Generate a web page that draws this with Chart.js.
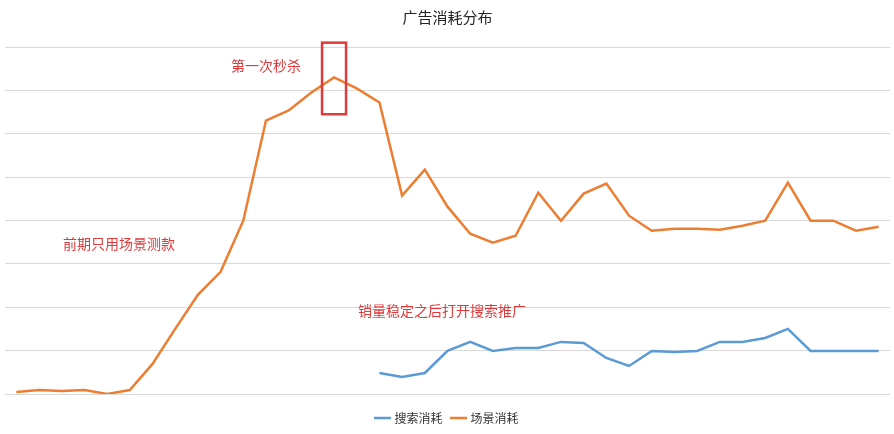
<!DOCTYPE html>
<html><head><meta charset="utf-8">
<script src="https://cdn.jsdelivr.net/npm/chart.js@4"></script>
<style>html,body{margin:0;padding:0;background:#fff}#w{width:894px;height:434px}</style>
</head><body><div id="w"><canvas id="c"></canvas></div>
<script>
const categories = Array.from({length:39},(_,i)=>String(i+1));
const sceneSpend = [46,92,69,92,0,92,693,1501,2286,2818,3995,6305,6536,6952,7298,7044,6721,4573,5173,4319,3695,3487,3649,4642,3995,4619,4850,4111,3764,3811,3811,3788,3880,3995,4873,3995,3995,3764,3857];
const searchSpend = [null,null,null,null,null,null,null,null,null,null,null,null,null,null,null,null,485,393,485,993,1201,993,1062,1062,1201,1178,831,647,993,970,993,1201,1201,1293,1501,993,993,993,993];
const notes = [
  {text:'第一次秒杀', x:266, y:66},
  {text:'前期只用场景测款', x:119, y:244},
  {text:'销量稳定之后打开搜索推广', x:442, y:311}
];
const notePlugin = {id:'notes', afterDatasetsDraw(chart){
  const ctx=chart.ctx, xs=chart.scales.x, ys=chart.scales.y;
  ctx.save();
  ctx.font='14px "Noto Sans CJK SC"'; ctx.fillStyle='#E03a3a'; ctx.textAlign='center'; ctx.textBaseline='middle';
  notes.forEach(n=>ctx.fillText(n.text,n.x,n.y));
  const cx=xs.getPixelForValue(14);
  ctx.strokeStyle='#E03a3a'; ctx.lineWidth=2.5;
  ctx.strokeRect(cx-12, ys.getPixelForValue(8100), 24, ys.getPixelForValue(6450)-ys.getPixelForValue(8100));
  ctx.restore();
}};
new Chart(document.getElementById('c'),{
  type:'line',
  data:{labels:categories,datasets:[
    {label:'搜索消耗',data:searchSpend,borderColor:'#5B9BD5',backgroundColor:'#5B9BD5',borderWidth:2.5,pointRadius:0,tension:0},
    {label:'场景消耗',data:sceneSpend,borderColor:'#ED7D31',backgroundColor:'#ED7D31',borderWidth:2.5,pointRadius:0,tension:0}
  ]},
  options:{responsive:true,maintainAspectRatio:false,animation:false,
    layout:{padding:{left:5,right:4,top:0,bottom:0}},
    plugins:{
      title:{display:true,text:'广告消耗分布',color:'#222',font:{size:15,family:'"Noto Sans CJK SC"',weight:'normal'},padding:{top:8,bottom:21}},
      legend:{position:'bottom',labels:{usePointStyle:true,pointStyle:'line',boxWidth:28,color:'#333',font:{size:12,family:'"Noto Sans CJK SC"'},padding:10}},
      tooltip:{enabled:false}
    },
    scales:{
      x:{offset:true,grid:{display:false},border:{display:false},ticks:{display:false}},
      y:{min:0,max:8000,ticks:{display:false,stepSize:1000},grid:{color:'#d9d9d9',drawTicks:false},border:{display:false}}
    }
  },
  plugins:[notePlugin]
});
</script></body></html>
